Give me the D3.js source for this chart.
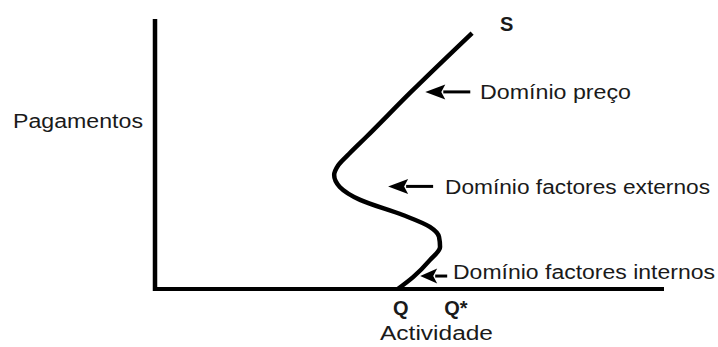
<!DOCTYPE html>
<html>
<head>
<meta charset="utf-8">
<script src="https://cdn.jsdelivr.net/npm/d3@7"></script>
<style>
  html, body { margin: 0; padding: 0; background: #fff; }
  svg { display: block; }
  text { font-family: "Liberation Sans", Arial, sans-serif; fill: #1a1a1a; }
</style>
</head>
<body>
<svg id="chart" width="718" height="347"></svg>
<script>
// Supply curve S: activity (x) vs payments (y), in arbitrary units 0..100
const curveActivity = [62.3, 50.3, 41.5, 38.1, 36.0, 35.2, 36.3, 40.3, 48.7, 54.0, 55.8, 56.0, 54.0, 50.7, 47.7];
const curvePayments = [94.8, 73.0, 56.3, 50.0, 45.8, 42.2, 37.8, 33.0, 27.4, 23.0, 19.3, 15.6, 10.7, 4.4, 0.0];

const curveLabel = "S";
const xAxisTitle = "Actividade";
const yAxisTitle = "Pagamentos";
const xMarkLabels = ["Q", "Q*"];
const xMarkValues = [48.7, 59.0];

// Domain annotations: label, arrow tip (activity, payments)
const domainLabels = ["Domínio preço", "Domínio factores externos", "Domínio factores internos"];
const domainTipActivity = [53.1, 45.8, 52.1];
const domainTipPayments = [73.0, 38.0, 4.8];

const svg = d3.select("#chart");

const x = d3.scaleLinear().domain([0, 100]).range([155, 664]);
const y = d3.scaleLinear().domain([0, 100]).range([289, 19]);

// Axes (plain lines, no ticks)
svg.append("line")
  .attr("x1", x(0)).attr("x2", x(0))
  .attr("y1", y(100)).attr("y2", y(0) + 2)
  .attr("stroke", "#000").attr("stroke-width", 4.5);
svg.append("line")
  .attr("x1", x(0) - 2).attr("x2", x(100))
  .attr("y1", y(0)).attr("y2", y(0))
  .attr("stroke", "#000").attr("stroke-width", 3.8);

// Curve
const pts = curveActivity.map((a, i) => [a, curvePayments[i]]);
const line = d3.line()
  .x(d => x(d[0])).y(d => y(d[1]))
  .curve(d3.curveMonotoneY);
svg.append("path")
  .attr("d", line(pts))
  .attr("fill", "none")
  .attr("stroke", "#000")
  .attr("stroke-width", 4.5)
  .attr("stroke-linecap", "butt");

// Curve label S
svg.append("text")
  .attr("x", 500).attr("y", 31)
  .attr("font-size", 20).attr("font-weight", "bold")
  .text(curveLabel);

// Arrows and domain labels
const shaftLen = [45, 45, 27];
const headLen = [20, 20, 17];
const headHalf = [7.5, 7.5, 7.5];
const labelX = [480, 445, 453];
const labelW = [151, 265, 262];
const labelDy = [7, 8, 3];

domainLabels.forEach((lab, i) => {
  const tx = x(domainTipActivity[i]);
  const ty = y(domainTipPayments[i]);
  const g = svg.append("g");
  g.append("line")
    .attr("x1", tx + headLen[i] - 2).attr("x2", tx + shaftLen[i])
    .attr("y1", ty).attr("y2", ty)
    .attr("stroke", "#000").attr("stroke-width", 3);
  g.append("path")
    .attr("d", `M${tx},${ty} L${tx + headLen[i]},${ty - headHalf[i]} L${tx + headLen[i] - 4},${ty} L${tx + headLen[i]},${ty + headHalf[i]} Z`)
    .attr("fill", "#000");
  g.append("text")
    .attr("x", labelX[i]).attr("y", ty + labelDy[i])
    .attr("font-size", 20)
    .attr("textLength", labelW[i])
    .attr("lengthAdjust", "spacingAndGlyphs")
    .text(lab);
});

// Q and Q* labels
xMarkLabels.forEach((lab, i) => {
  svg.append("text")
    .attr("x", x(xMarkValues[i]) - (i === 0 ? 10 : 11))
    .attr("y", 315)
    .attr("font-size", 20).attr("font-weight", "bold")
    .text(lab);
});

// Axis titles
svg.append("text")
  .attr("x", 380).attr("y", 340)
  .attr("font-size", 20)
  .attr("textLength", 113).attr("lengthAdjust", "spacingAndGlyphs")
  .text(xAxisTitle);
svg.append("text")
  .attr("x", 13).attr("y", 128)
  .attr("font-size", 20)
  .attr("textLength", 130).attr("lengthAdjust", "spacingAndGlyphs")
  .text(yAxisTitle);
</script>
</body>
</html>
